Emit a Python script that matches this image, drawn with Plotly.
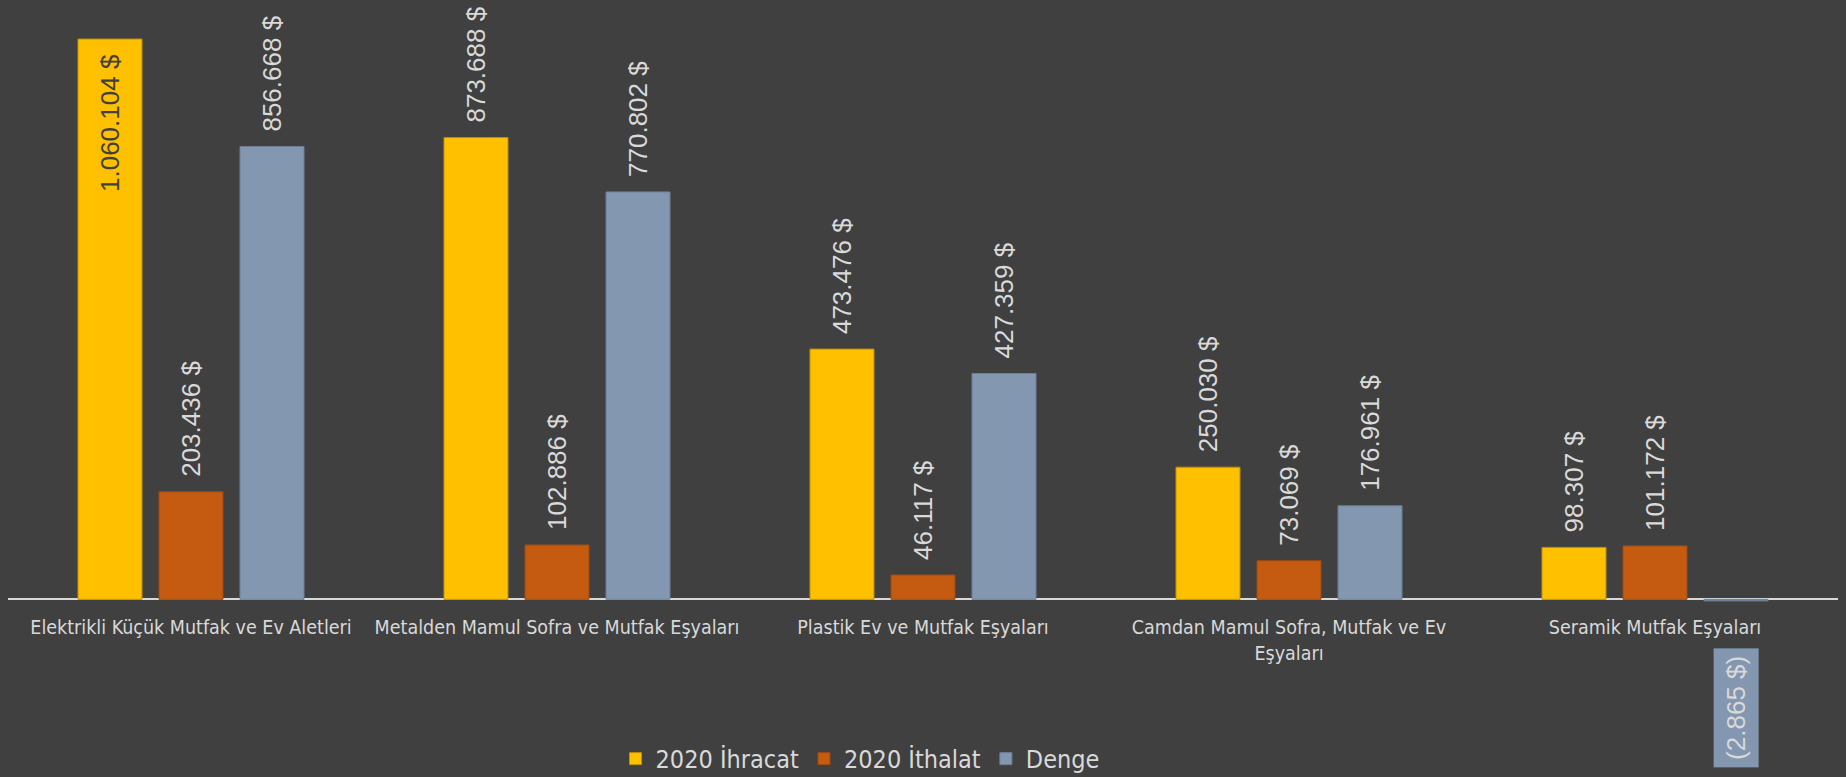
import plotly.graph_objects as go

categories = [
    "Elektrikli Küçük Mutfak ve Ev Aletleri",
    "Metalden Mamul Sofra ve Mutfak Eşyaları",
    "Plastik Ev ve Mutfak Eşyaları",
    "Camdan Mamul Sofra, Mutfak ve Ev<br>Eşyaları",
    "Seramik Mutfak Eşyaları",
]
ihracat = [1060104, 873688, 473476, 250030, 98307]
ithalat = [203436, 102886, 46117, 73069, 101172]
denge = [856668, 770802, 427359, 176961, -2865]

series_names = ["2020 İhracat", "2020 İthalat", "Denge"]
series_values = [ihracat, ithalat, denge]
colors = ["#FFC000", "#C55A11", "#8497B0"]
edge_colors = ["#BF9000", "#9E4A10", "#6E7F97"]

BG = "#404040"
LIGHT = "#D9D9D9"
BARGAP = 0.336
BARGROUPGAP = 0.21


def fmt(v):
    s = f"{abs(v):,}".replace(",", ".") + " $"
    return f"({s})" if v < 0 else s


fig = go.Figure()
for name, vals, c, ec in zip(series_names, series_values, colors, edge_colors):
    fig.add_trace(go.Bar(
        name=name, x=categories, y=vals,
        marker=dict(color=c, line=dict(color=ec, width=1)),
        hoverinfo="skip",
    ))

LABEL_FONT = "Liberation Sans, Arial, sans-serif"
slot = (1 - BARGAP) / len(series_values)
vmax = max(max(v) for v in series_values)
annotations = []
for j, vals in enumerate(series_values):
    off = (j - (len(series_values) - 1) / 2) * slot
    for i, v in enumerate(vals):
        base = dict(x=i + off, y=v, xref="x", yref="y", text=fmt(v),
                    textangle=-90, showarrow=False,
                    font=dict(family=LABEL_FONT, size=26, color=LIGHT))
        if v < 0:
            base.update(yanchor="top", yshift=-47, bgcolor=colors[j], borderpad=7)
        elif v == vmax:
            base.update(yanchor="top", yshift=-13)
            base["font"] = dict(family=LABEL_FONT, size=26, color=BG)
        else:
            base.update(yanchor="bottom", yshift=13)
        annotations.append(base)

COND = "DejaVu Sans Condensed, Liberation Sans Narrow, Arial Narrow, sans-serif"
fig.update_layout(
    width=1846, height=777,
    margin=dict(l=8, r=8, t=10, b=175, autoexpand=False),
    paper_bgcolor=BG, plot_bgcolor=BG,
    barmode="group", bargap=BARGAP, bargroupgap=BARGROUPGAP,
    showlegend=True,
    legend=dict(orientation="h", x=0.332, xanchor="left", y=-0.265, yanchor="middle",
                font=dict(family=COND, size=25, color=LIGHT), bgcolor="rgba(0,0,0,0)"),
    xaxis=dict(showgrid=False, showline=False, ticks="outside", ticklen=8,
               tickcolor="rgba(0,0,0,0)", range=[-0.5, 4.5], tickangle=0, automargin=False,
               tickfont=dict(family=COND, size=19.5, color=LIGHT)),
    yaxis=dict(range=[-5000, 1115000], showgrid=False, showticklabels=False, automargin=False,
               zeroline=True, zerolinecolor=LIGHT, zerolinewidth=2),
    annotations=annotations,
)

fig.write_html(
    "out.html",
    config={"displayModeBar": False},
    post_script="document.body.style.margin='0';document.body.style.backgroundColor='#404040';",
)
